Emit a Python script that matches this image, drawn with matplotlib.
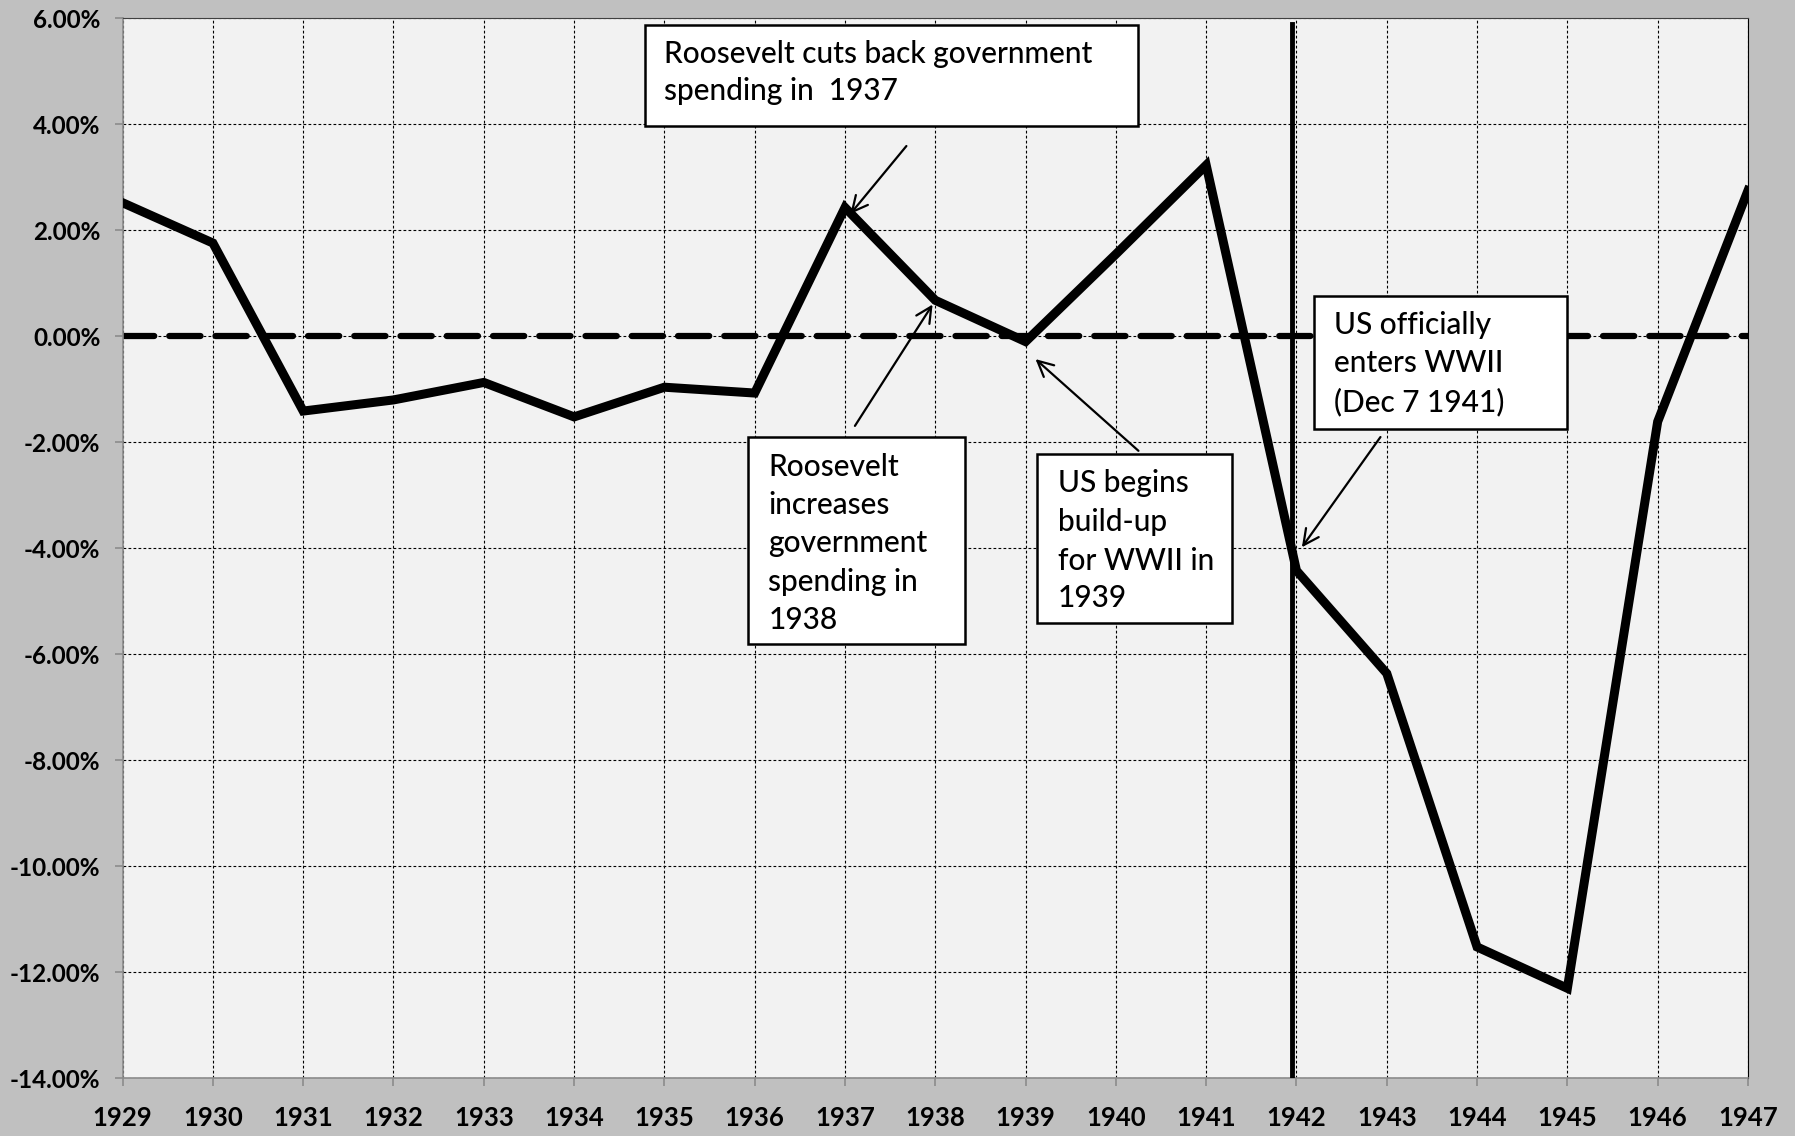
import matplotlib.pyplot as plt
from matplotlib.patches import Rectangle
from matplotlib.ticker import FuncFormatter

plt.rcParams['font.family'] = ['Lato', 'DejaVu Sans']

years = list(range(1929, 1948))
growth = [2.52, 1.76, -1.41, -1.20, -0.87, -1.52, -0.96, -1.07, 2.43, 0.68,
          -0.10, 1.55, 3.23, -4.42, -6.36, -11.52, -12.30, -1.61, 2.75]
y_ticks = list(range(-14, 7, 2))
war_entry = 1941.95

# (box left, box bottom, box right, box top, text x, line ys, lines, arrow tail, arrow head)
notes = [
    (1934.78, 3.97, 1940.24, 5.87, 1935.0, [5.33, 4.62],
     ['Roosevelt cuts back government', 'spending in  1937'],
     (1937.68, 3.59), (1937.06, 2.31)),
    (1935.93, -5.81, 1938.33, -1.90, 1936.15, [-2.46, -3.18, -3.90, -4.63, -5.35],
     ['Roosevelt', 'increases', 'government', 'spending in', '1938'],
     (1937.11, -1.69), (1937.97, 0.60)),
    (1939.13, -5.41, 1941.29, -2.22, 1939.36, [-2.77, -3.51, -4.23, -4.94],
     ['US begins', 'build-up', 'for WWII in', '1939'],
     (1940.25, -2.16), (1939.11, -0.43)),
    (1942.19, -1.75, 1945.0, 0.76, 1942.41, [0.21, -0.50, -1.24],
     ['US officially', 'enters WWII', '(Dec 7 1941)'],
     (1942.93, -1.90), (1942.06, -3.98)),
]

fig = plt.figure(figsize=(17.95, 11.36), dpi=100, facecolor='#c0c0c0')
ax = fig.add_axes([0.0683, 0.0507, 0.9055, 0.9332])
ax.set_facecolor('#f2f2f2')

ax.set_xlim(1929, 1947)
ax.set_ylim(-14, 6)
ax.set_xticks(years)
ax.set_yticks(y_ticks)
ax.yaxis.set_major_formatter(FuncFormatter(lambda v, p: '%.2f%%' % v))
ax.grid(True, color='black', linestyle=(0, (2.5, 2)), linewidth=0.8)
ax.set_axisbelow(True)

for side in ['left', 'bottom']:
    ax.spines[side].set_color('#8c8c8c')
    ax.spines[side].set_linewidth(1.2)
ax.spines['top'].set_color('#404040')
ax.spines['right'].set_color('black')
ax.tick_params(colors='#8c8c8c', length=6, width=1.2, labelcolor='black')
ax.tick_params(axis='y', pad=10, labelsize=17.5)
ax.tick_params(axis='x', pad=14, labelsize=18.5)
for lbl in ax.get_xticklabels() + ax.get_yticklabels():
    lbl.set_fontweight('bold')

ax.axhline(0, color='black', linewidth=4.5, linestyle=(0, (5, 2.4)),
           dash_capstyle='round', zorder=2)
ax.plot(years, growth, color='black', linewidth=6.5, solid_joinstyle='miter', zorder=3)
ax.plot([war_entry, war_entry], [-14, 5.9], color='black', linewidth=3.5, zorder=3)

for x0, y0, x1, y1, tx, ys, lines, tail, head in notes:
    ax.add_patch(Rectangle((x0, y0), x1 - x0, y1 - y0, facecolor='white',
                           edgecolor='black', linewidth=1.8, zorder=4))
    for yy, line in zip(ys, lines):
        ax.text(tx, yy, line, fontsize=21.5, fontweight='medium',
                ha='left', va='center', zorder=5)
    ax.annotate('', xy=head, xytext=tail, zorder=5,
                arrowprops=dict(arrowstyle='->', color='black', lw=1.6,
                                mutation_scale=28, shrinkA=0, shrinkB=0))

fig.savefig('out.png', dpi=100, facecolor=fig.get_facecolor())
